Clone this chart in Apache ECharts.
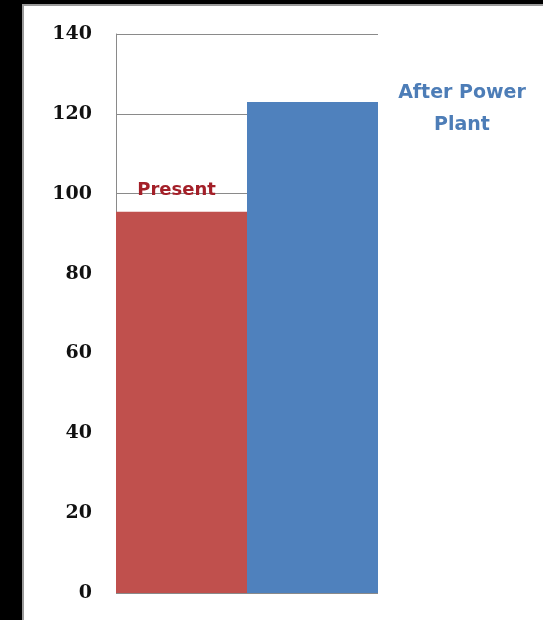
<!DOCTYPE html>
<html>
<head>
<meta charset="utf-8">
<script src="https://cdn.jsdelivr.net/npm/echarts@6/dist/echarts.min.js"></script>
<style>
  html, body { margin: 0; padding: 0; background: #fff; }
  #wrap { position: relative; width: 543px; height: 620px; overflow: hidden; }
  #chart { position: absolute; left: 0; top: 0; width: 543px; height: 620px; }
  .frameL { position: absolute; left: 0; top: 0; width: 22px; height: 620px; background: #000; }
  .frameT { position: absolute; left: 0; top: 0; width: 543px; height: 4px; background: #000; }
  .edgeL { position: absolute; left: 22px; top: 4px; width: 2px; height: 616px; background: #9a9a9a; }
  .edgeT { position: absolute; left: 22px; top: 4px; width: 521px; height: 2px; background: #9a9a9a; }
</style>
</head>
<body>
<div id="wrap">
  <div id="chart"></div>
  <div class="frameL"></div>
  <div class="frameT"></div>
  <div class="edgeL"></div>
  <div class="edgeT"></div>
</div>
<script>
// Scenario values (same unit on the vertical axis)
var categories = ['Present', 'After Power Plant'];
var values = [95.5, 123];
var barColors = ['#c0504d', '#4f81bd'];
var labelTexts = ['Present', 'After Power\nPlant'];

var yMin = 0, yMax = 140, yStep = 20;

var chart = echarts.init(document.getElementById('chart'), null, { renderer: 'canvas' });

var dataItems = values.map(function (v, i) {
  return { value: v, name: categories[i], itemStyle: { color: barColors[i] } };
});

// Present: label centred just above its bar, crossing the 100 line
dataItems[0].label = {
  show: true,
  position: ['50%', 0],
  offset: [-5, -21],
  align: 'center',
  verticalAlign: 'middle',
  formatter: labelTexts[0],
  color: '#a31f28',
  fontFamily: 'DejaVu Sans',
  fontWeight: 'bold',
  fontSize: 18
};
// After Power Plant: two-line label to the right of the bar's top
dataItems[1].label = {
  show: true,
  position: ['100%', 0],
  offset: [84, -25],
  align: 'center',
  verticalAlign: 'top',
  lineHeight: 32,
  formatter: labelTexts[1],
  color: '#4d7db7',
  fontFamily: 'DejaVu Sans',
  fontWeight: 'bold',
  fontSize: 19
};

chart.setOption({
  animation: false,
  backgroundColor: '#ffffff',
  grid: { left: 116, right: 165, top: 34, bottom: 27, containLabel: false },
  xAxis: {
    type: 'category',
    data: categories,
    axisLine: { show: false },
    axisTick: { show: false },
    axisLabel: { show: false },
    splitLine: { show: false }
  },
  yAxis: {
    type: 'value',
    min: yMin,
    max: yMax,
    interval: yStep,
    axisLine: { show: true, lineStyle: { color: '#8a8a8a', width: 1 } },
    axisTick: { show: false },
    axisLabel: {
      margin: 24,
      color: '#111',
      fontFamily: 'DejaVu Serif',
      fontWeight: 'bold',
      fontSize: 19
    },
    splitLine: { show: true, lineStyle: { color: '#8a8a8a', width: 1 } }
  },
  series: [{
    type: 'bar',
    data: dataItems,
    barWidth: '100%',
    barCategoryGap: '0%'
  }]
});
</script>
</body>
</html>
